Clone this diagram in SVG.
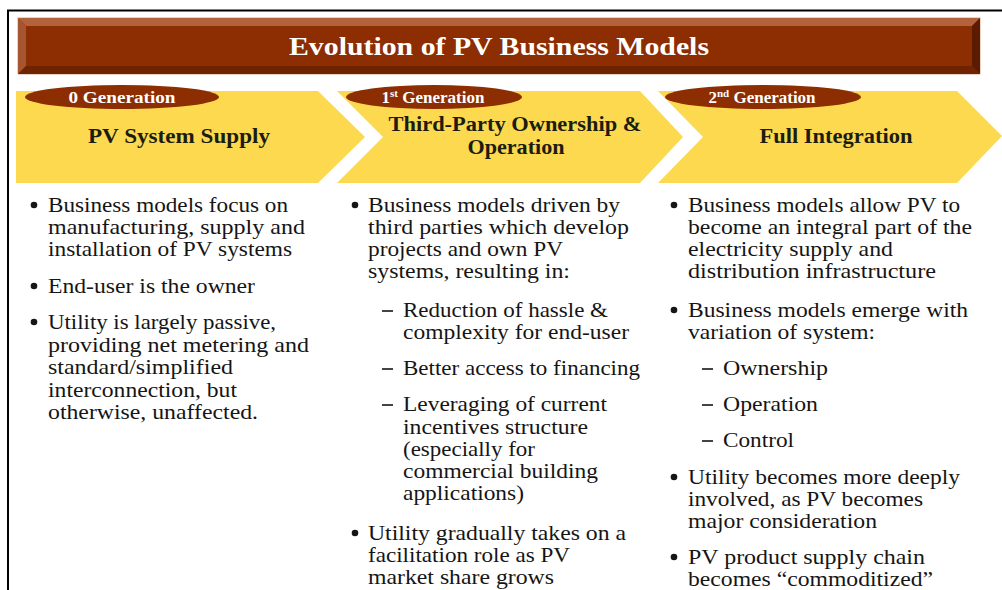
<svg xmlns="http://www.w3.org/2000/svg" width="1002" height="590" viewBox="0 0 1002 590">
<style>
.body{font-family:"Liberation Serif","Times New Roman",serif;font-size:21px;fill:#151515}
.head{font-family:"Liberation Serif","Times New Roman",serif;font-size:21px;font-weight:bold;fill:#1c1c10;text-anchor:middle}
.gen{font-family:"Liberation Serif","Times New Roman",serif;font-size:17px;font-weight:bold;fill:#ffffff;text-anchor:middle}
.title{font-family:"Liberation Serif","Times New Roman",serif;font-size:26px;font-weight:bold;fill:#ffffff;text-anchor:middle}
.chev{fill:#FCD94E}
.oval{fill:#8C2D02}
.dot{fill:#151515}
.dash{stroke:#151515;stroke-width:1.6}
</style>
<rect width="1002" height="590" fill="#ffffff"/>
<g id="frame">
<path d="M1002 10.5 H8 V590" fill="none" stroke="#000" stroke-width="2"/>
</g>
<g id="title">
<rect x="18" y="18" width="962" height="56" fill="#8C2D02" stroke="#D9A58A" stroke-width="1"/>
<polygon points="18,18 980,18 972,26 26,26" fill="#B3633C"/>
<polygon points="18,18 26,26 26,66 18,74" fill="#A65531"/>
<polygon points="980,18 980,74 972,66 972,26" fill="#5A1B00"/>
<polygon points="18,74 980,74 972,66 26,66" fill="#6E2400"/>
<text class="title" x="499" y="55" textLength="420" lengthAdjust="spacingAndGlyphs">Evolution of PV Business Models</text>
</g>
<g id="gen0">
<polygon class="chev" points="16,91 318,91 365,137 318,183 16,183"/>
<ellipse class="oval" cx="122" cy="97" rx="97" ry="12"/>
<text class="gen" x="122" y="103" textLength="107" lengthAdjust="spacingAndGlyphs">0 Generation</text>
<text class="head" x="179" y="143" textLength="182" lengthAdjust="spacingAndGlyphs">PV System Supply</text>
</g>
<g id="gen1">
<polygon class="chev" points="337,91 640,91 683,137 640,183 337,183 383,137"/>
<ellipse class="oval" cx="434" cy="97" rx="88" ry="12"/>
<text class="gen" x="433" y="103">1<tspan font-size="11" dy="-6">st</tspan><tspan dy="6"> Generation</tspan></text>
<text class="head" x="515" y="131" textLength="253" lengthAdjust="spacingAndGlyphs">Third-Party Ownership &amp;</text>
<text class="head" x="516" y="154" textLength="97" lengthAdjust="spacingAndGlyphs">Operation</text>
</g>
<g id="gen2">
<polygon class="chev" points="658,91 957,91 1002,136 957,183 658,183 703,137"/>
<ellipse class="oval" cx="763" cy="97" rx="98" ry="12"/>
<text class="gen" x="762" y="103">2<tspan font-size="11" dy="-6">nd</tspan><tspan dy="6"> Generation</tspan></text>
<text class="head" x="836" y="143" textLength="153" lengthAdjust="spacingAndGlyphs">Full Integration</text>
</g>
<g id="col0">
<circle class="dot" cx="34" cy="205" r="3.3"/>
<text class="body" x="48" y="212" textLength="240" lengthAdjust="spacingAndGlyphs">Business models focus on</text>
<text class="body" x="48" y="234" textLength="257" lengthAdjust="spacingAndGlyphs">manufacturing, supply and</text>
<text class="body" x="48" y="256" textLength="244" lengthAdjust="spacingAndGlyphs">installation of PV systems</text>
<circle class="dot" cx="34" cy="286" r="3.3"/>
<text class="body" x="48" y="293" textLength="207" lengthAdjust="spacingAndGlyphs">End-user is the owner</text>
<circle class="dot" cx="34" cy="322" r="3.3"/>
<text class="body" x="48" y="329" textLength="228" lengthAdjust="spacingAndGlyphs">Utility is largely passive,</text>
<text class="body" x="48" y="352" textLength="261" lengthAdjust="spacingAndGlyphs">providing net metering and</text>
<text class="body" x="48" y="374" textLength="185" lengthAdjust="spacingAndGlyphs">standard/simplified</text>
<text class="body" x="48" y="397" textLength="189" lengthAdjust="spacingAndGlyphs">interconnection, but</text>
<text class="body" x="48" y="419" textLength="210" lengthAdjust="spacingAndGlyphs">otherwise, unaffected.</text>
</g>
<g id="col1">
<circle class="dot" cx="355" cy="205" r="3.3"/>
<text class="body" x="368" y="212" textLength="252" lengthAdjust="spacingAndGlyphs">Business models driven by</text>
<text class="body" x="368" y="234" textLength="261" lengthAdjust="spacingAndGlyphs">third parties which develop</text>
<text class="body" x="368" y="256" textLength="195" lengthAdjust="spacingAndGlyphs">projects and own PV</text>
<text class="body" x="368" y="278" textLength="202" lengthAdjust="spacingAndGlyphs">systems, resulting in:</text>
<line class="dash" x1="382" y1="311" x2="393" y2="311"/>
<text class="body" x="403" y="317" textLength="205" lengthAdjust="spacingAndGlyphs">Reduction of hassle &amp;</text>
<text class="body" x="403" y="339" textLength="226" lengthAdjust="spacingAndGlyphs">complexity for end-user</text>
<line class="dash" x1="382" y1="369" x2="393" y2="369"/>
<text class="body" x="403" y="375" textLength="237" lengthAdjust="spacingAndGlyphs">Better access to financing</text>
<line class="dash" x1="382" y1="405" x2="393" y2="405"/>
<text class="body" x="403" y="411" textLength="204" lengthAdjust="spacingAndGlyphs">Leveraging of current</text>
<text class="body" x="403" y="434" textLength="185" lengthAdjust="spacingAndGlyphs">incentives structure</text>
<text class="body" x="403" y="456" textLength="132" lengthAdjust="spacingAndGlyphs">(especially for</text>
<text class="body" x="403" y="478" textLength="195" lengthAdjust="spacingAndGlyphs">commercial building</text>
<text class="body" x="403" y="500" textLength="121" lengthAdjust="spacingAndGlyphs">applications)</text>
<circle class="dot" cx="355" cy="533" r="3.3"/>
<text class="body" x="368" y="540" textLength="258" lengthAdjust="spacingAndGlyphs">Utility gradually takes on a</text>
<text class="body" x="368" y="562" textLength="202" lengthAdjust="spacingAndGlyphs">facilitation role as PV</text>
<text class="body" x="368" y="584" textLength="186" lengthAdjust="spacingAndGlyphs">market share grows</text>
</g>
<g id="col2">
<circle class="dot" cx="674" cy="205" r="3.3"/>
<text class="body" x="688" y="212" textLength="272" lengthAdjust="spacingAndGlyphs">Business models allow PV to</text>
<text class="body" x="688" y="234" textLength="284" lengthAdjust="spacingAndGlyphs">become an integral part of the</text>
<text class="body" x="688" y="256" textLength="205" lengthAdjust="spacingAndGlyphs">electricity supply and</text>
<text class="body" x="688" y="278" textLength="248" lengthAdjust="spacingAndGlyphs">distribution infrastructure</text>
<circle class="dot" cx="674" cy="310" r="3.3"/>
<text class="body" x="688" y="317" textLength="280" lengthAdjust="spacingAndGlyphs">Business models emerge with</text>
<text class="body" x="688" y="339" textLength="187" lengthAdjust="spacingAndGlyphs">variation of system:</text>
<line class="dash" x1="702" y1="369" x2="713" y2="369"/>
<text class="body" x="723" y="375" textLength="105" lengthAdjust="spacingAndGlyphs">Ownership</text>
<line class="dash" x1="702" y1="405" x2="713" y2="405"/>
<text class="body" x="723" y="411" textLength="95" lengthAdjust="spacingAndGlyphs">Operation</text>
<line class="dash" x1="702" y1="441" x2="713" y2="441"/>
<text class="body" x="723" y="447" textLength="71" lengthAdjust="spacingAndGlyphs">Control</text>
<circle class="dot" cx="674" cy="477" r="3.3"/>
<text class="body" x="688" y="484" textLength="272" lengthAdjust="spacingAndGlyphs">Utility becomes more deeply</text>
<text class="body" x="688" y="506" textLength="235" lengthAdjust="spacingAndGlyphs">involved, as PV becomes</text>
<text class="body" x="688" y="528" textLength="189" lengthAdjust="spacingAndGlyphs">major consideration</text>
<circle class="dot" cx="674" cy="557" r="3.3"/>
<text class="body" x="688" y="564" textLength="237" lengthAdjust="spacingAndGlyphs">PV product supply chain</text>
<text class="body" x="688" y="586" textLength="245" lengthAdjust="spacingAndGlyphs">becomes “commoditized”</text>
</g>
</svg>
